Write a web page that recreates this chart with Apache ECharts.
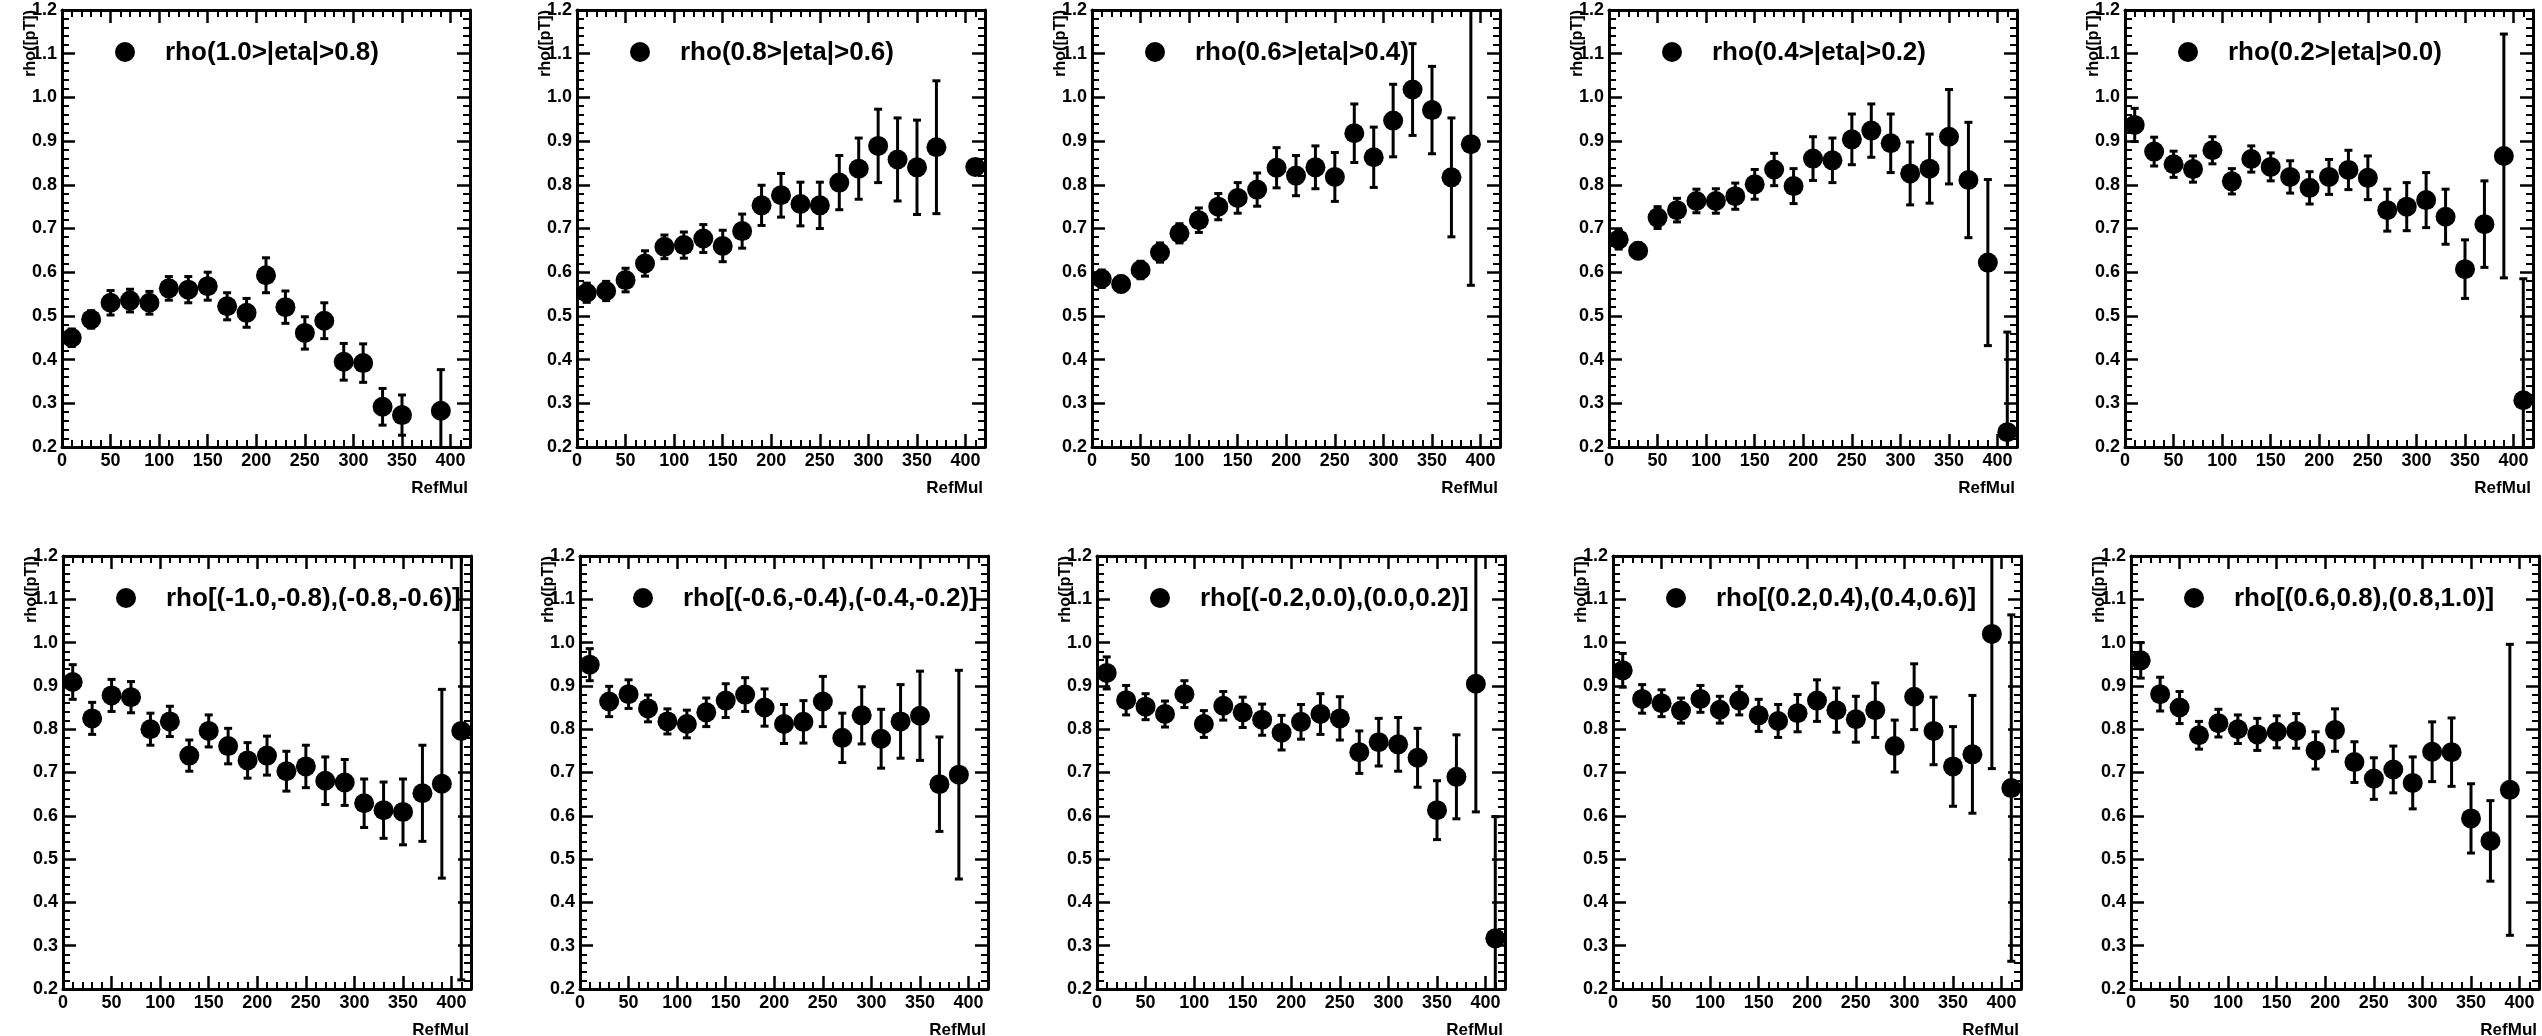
<!DOCTYPE html>
<html>
<head>
<meta charset="utf-8">
<title>rho vs RefMul</title>
<script src="https://cdn.jsdelivr.net/npm/echarts@6/dist/echarts.min.js"></script>
<style>
  html, body { margin: 0; padding: 0; background: #fff; }
  #chart { width: 2542px; height: 1036px; }
</style>
</head>
<body>
<div id="chart"></div>
<script>
// RefMul bin centres (bin width 20, range 0..420)
const refMulBins = [10, 30, 50, 70, 90, 110, 130, 150, 170, 190, 210, 230, 250, 270, 290, 310, 330, 350, 370, 390, 410];

// Axis ticks
const xTicks = [0, 50, 100, 150, 200, 250, 300, 350, 400];
const yTicks = [0.2, 0.3, 0.4, 0.5, 0.6, 0.7, 0.8, 0.9, 1.0, 1.1, 1.2];

// Panel titles
const panelTitles = [
  'rho(1.0>|eta|>0.8)', 'rho(0.8>|eta|>0.6)', 'rho(0.6>|eta|>0.4)', 'rho(0.4>|eta|>0.2)', 'rho(0.2>|eta|>0.0)',
  'rho[(-1.0,-0.8),(-0.8,-0.6)]', 'rho[(-0.6,-0.4),(-0.4,-0.2)]', 'rho[(-0.2,0.0),(0.0,0.2)]',
  'rho[(0.2,0.4),(0.4,0.6)]', 'rho[(0.6,0.8),(0.8,1.0)]'
];

// rho values and their errors, one pair per eta selection (null = empty bin)
const rhoEta10to08 = [0.450, 0.492, 0.530, 0.535, 0.530, 0.563, 0.560, 0.568, 0.522, 0.507, 0.593, 0.520, 0.461, 0.489, 0.395, 0.392, 0.292, 0.273, null, 0.283, null];
const errEta10to08 = [0.020, 0.020, 0.028, 0.026, 0.026, 0.027, 0.030, 0.032, 0.031, 0.033, 0.040, 0.037, 0.037, 0.041, 0.042, 0.044, 0.042, 0.046, null, 0.094, null];

const rhoEta08to06 = [0.553, 0.557, 0.582, 0.620, 0.658, 0.662, 0.677, 0.660, 0.694, 0.753, 0.776, 0.756, 0.753, 0.805, 0.837, 0.889, 0.858, 0.840, 0.886, null, 0.841];
const errEta08to06 = [0.022, 0.022, 0.027, 0.029, 0.027, 0.030, 0.032, 0.036, 0.039, 0.046, 0.050, 0.050, 0.053, 0.062, 0.070, 0.084, 0.095, 0.108, 0.152, null, 0];

const rhoEta06to04 = [0.585, 0.573, 0.605, 0.645, 0.689, 0.719, 0.750, 0.770, 0.789, 0.839, 0.821, 0.840, 0.818, 0.918, 0.863, 0.947, 1.018, 0.971, 0.817, 0.893, null];
const errEta06to04 = [0.020, 0.018, 0.020, 0.022, 0.022, 0.028, 0.030, 0.035, 0.038, 0.046, 0.046, 0.049, 0.056, 0.067, 0.069, 0.083, 0.105, 0.100, 0.136, 0.323, null];

const rhoEta04to02 = [0.675, 0.649, 0.725, 0.742, 0.763, 0.763, 0.774, 0.801, 0.835, 0.797, 0.860, 0.856, 0.904, 0.924, 0.895, 0.826, 0.837, 0.910, 0.811, 0.622, 0.234];
const errEta04to02 = [0.022, 0.018, 0.025, 0.027, 0.027, 0.028, 0.030, 0.034, 0.037, 0.040, 0.050, 0.051, 0.058, 0.061, 0.067, 0.072, 0.079, 0.108, 0.132, 0.190, 0.229];

const rhoEta02to00 = [0.937, 0.876, 0.847, 0.836, 0.879, 0.808, 0.859, 0.841, 0.818, 0.793, 0.818, 0.834, 0.816, 0.742, 0.750, 0.765, 0.727, 0.607, 0.710, 0.866, 0.307];
const errEta02to00 = [0.038, 0.033, 0.030, 0.030, 0.031, 0.029, 0.030, 0.032, 0.037, 0.037, 0.040, 0.045, 0.050, 0.048, 0.055, 0.063, 0.063, 0.067, 0.099, 0.279, 0.278];

const rhoPairM10M06 = [0.909, 0.825, 0.878, 0.874, 0.800, 0.818, 0.739, 0.796, 0.761, 0.728, 0.739, 0.703, 0.714, 0.681, 0.677, 0.629, 0.613, 0.609, 0.652, 0.674, 0.796];
const errPairM10M06 = [0.040, 0.037, 0.037, 0.036, 0.037, 0.035, 0.036, 0.037, 0.041, 0.041, 0.045, 0.046, 0.049, 0.055, 0.053, 0.056, 0.065, 0.076, 0.111, 0.218, 0.575];

const rhoPairM06M02 = [0.949, 0.864, 0.881, 0.848, 0.818, 0.812, 0.839, 0.866, 0.880, 0.850, 0.812, 0.817, 0.864, 0.780, 0.832, 0.778, 0.818, 0.831, 0.673, 0.695, null];
const errPairM06M02 = [0.037, 0.035, 0.033, 0.031, 0.029, 0.032, 0.033, 0.039, 0.039, 0.043, 0.045, 0.049, 0.058, 0.057, 0.066, 0.068, 0.085, 0.103, 0.109, 0.241, null];

const rhoPairM02P02 = [0.930, 0.867, 0.852, 0.835, 0.881, 0.812, 0.854, 0.839, 0.822, 0.792, 0.817, 0.835, 0.825, 0.747, 0.770, 0.765, 0.734, 0.613, 0.690, 0.905, 0.317];
const errPairM02P02 = [0.037, 0.034, 0.030, 0.030, 0.031, 0.031, 0.033, 0.035, 0.036, 0.040, 0.040, 0.047, 0.050, 0.049, 0.055, 0.062, 0.068, 0.068, 0.097, 0.296, 0.281];

const rhoPairP02P06 = [0.936, 0.870, 0.860, 0.843, 0.870, 0.845, 0.866, 0.832, 0.819, 0.837, 0.866, 0.844, 0.823, 0.844, 0.761, 0.875, 0.796, 0.714, 0.742, 1.020, 0.664];
const errPairP02P06 = [0.039, 0.033, 0.031, 0.029, 0.031, 0.031, 0.033, 0.037, 0.038, 0.043, 0.048, 0.051, 0.053, 0.063, 0.060, 0.076, 0.078, 0.092, 0.136, 0.311, 0.400];

const rhoPairP06P10 = [0.959, 0.881, 0.850, 0.786, 0.814, 0.800, 0.788, 0.794, 0.796, 0.751, 0.798, 0.724, 0.686, 0.707, 0.676, 0.748, 0.747, 0.594, 0.542, 0.660, null];
const errPairP06P10 = [0.041, 0.039, 0.037, 0.032, 0.032, 0.033, 0.037, 0.037, 0.040, 0.043, 0.049, 0.047, 0.048, 0.054, 0.060, 0.069, 0.079, 0.080, 0.093, 0.336, null];

const panelValues = [rhoEta10to08, rhoEta08to06, rhoEta06to04, rhoEta04to02, rhoEta02to00,
                     rhoPairM10M06, rhoPairM06M02, rhoPairM02P02, rhoPairP02P06, rhoPairP06P10];
const panelErrors = [errEta10to08, errEta08to06, errEta06to04, errEta04to02, errEta02to00,
                     errPairM10M06, errPairM06M02, errPairM02P02, errPairP02P06, errPairP06P10];

// ---- layout (pixels) ----
const frameLefts = [[62, 577, 1092, 1609, 2125], [63, 580, 1097, 1613, 2131]];
const frameTops = [10, 556];
const frameHeights = [437, 433];
const frameWidth = 408;

const FONT = '"Liberation Sans", Arial, Helvetica, sans-serif';

const chart = echarts.init(document.getElementById('chart'), null, { renderer: 'canvas' });

const grids = [], xAxes = [], yAxes = [], series = [], graphics = [];

function axisCommon(show) {
  return {
    type: 'value',
    axisLine: { show: true, onZero: false, lineStyle: { color: '#000', width: 3 } },
    axisTick: { show: true, inside: true, length: 13, lineStyle: { color: '#000', width: 2.5 } },
    minorTick: { show: true, splitNumber: 5, length: 7, lineStyle: { color: '#000', width: 2 } },
    splitLine: { show: false },
    axisLabel: {
      show: show, color: '#000', fontFamily: FONT, fontWeight: 'bold', fontSize: 18, margin: 5
    }
  };
}

for (let p = 0; p < 10; p++) {
  const row = Math.floor(p / 5), col = p % 5;
  const left = frameLefts[row][col];
  const top = frameTops[row];
  const height = frameHeights[row];
  grids.push({ left: left, top: top, width: frameWidth, height: height, containLabel: false });

  const xMin = 0, xMax = 420;
  const xb = axisCommon(true);
  Object.assign(xb, { gridIndex: p, position: 'bottom', min: xMin, max: xMax, interval: 50 });
  xb.axisLabel.formatter = v => (xTicks.indexOf(v) >= 0 ? String(v) : '');
  const xt = axisCommon(false);
  Object.assign(xt, { gridIndex: p, position: 'top', min: xMin, max: xMax, interval: 50 });
  xAxes.push(xb, xt);

  const yl = axisCommon(true);
  Object.assign(yl, { gridIndex: p, position: 'left', min: yTicks[0], max: yTicks[yTicks.length - 1], interval: 0.1 });
  yl.axisLabel.formatter = v => v.toFixed(1);
  const yr = axisCommon(false);
  Object.assign(yr, { gridIndex: p, position: 'right', min: yTicks[0], max: yTicks[yTicks.length - 1], interval: 0.1 });
  yAxes.push(yl, yr);

  const pts = [], bars = [];
  refMulBins.forEach((x, i) => {
    const v = panelValues[p][i];
    if (v === null || v === undefined) return;
    pts.push([x, v]);
    const e = panelErrors[p][i];
    if (e) bars.push([x, v, e]);
  });

  series.push({
    type: 'custom',
    xAxisIndex: 2 * p, yAxisIndex: 2 * p,
    clip: true,
    silent: true,
    data: bars,
    renderItem: function (params, api) {
      const x = api.value(0), v = api.value(1), e = api.value(2);
      const hi = api.coord([x, v + e]);
      const lo = api.coord([x, v - e]);
      const cap = 4;
      const style = { stroke: '#000', lineWidth: 3 };
      return {
        type: 'group',
        children: [
          { type: 'line', shape: { x1: hi[0], y1: hi[1], x2: lo[0], y2: lo[1] }, style: style },
          { type: 'line', shape: { x1: hi[0] - cap, y1: hi[1], x2: hi[0] + cap, y2: hi[1] }, style: style },
          { type: 'line', shape: { x1: lo[0] - cap, y1: lo[1], x2: lo[0] + cap, y2: lo[1] }, style: style }
        ]
      };
    },
    z: 2
  });

  series.push({
    type: 'scatter',
    name: panelTitles[p],
    xAxisIndex: 2 * p, yAxisIndex: 2 * p,
    symbol: 'circle',
    symbolSize: 20,
    clip: true,
    itemStyle: { color: '#000', opacity: 1 },
    emphasis: { disabled: true },
    data: pts,
    z: 3
  });

  // legend entry: marker and label inside the frame
  graphics.push({
    type: 'circle',
    shape: { cx: left + 63, cy: top + 42, r: 10 },
    style: { fill: '#000' },
    z: 10
  });
  graphics.push({
    type: 'text',
    x: left + 103,
    y: top + 43,
    style: {
      text: panelTitles[p], fill: '#000', font: 'bold 26px ' + FONT,
      align: 'left', verticalAlign: 'middle', textAlign: 'left', textVerticalAlign: 'middle'
    },
    z: 10
  });

  // y-axis title, rotated, reading upward, ending at the frame top
  graphics.push({
    type: 'text',
    x: left - 31,
    y: top,
    rotation: Math.PI / 2,
    style: {
      text: 'rho([pT])', fill: '#000', font: 'bold 16px ' + FONT,
      align: 'right', verticalAlign: 'middle', textAlign: 'right', textVerticalAlign: 'middle'
    },
    z: 10
  });
  // x-axis title, right-aligned under the frame
  graphics.push({
    type: 'text',
    x: left + frameWidth - 2,
    y: top + height + 41,
    style: {
      text: 'RefMul', fill: '#000', font: 'bold 17px ' + FONT,
      align: 'right', verticalAlign: 'middle', textAlign: 'right', textVerticalAlign: 'middle'
    },
    z: 10
  });
}

chart.setOption({
  animation: false,
  backgroundColor: '#fff',
  grid: grids,
  xAxis: xAxes,
  yAxis: yAxes,
  graphic: graphics,
  series: series
});
</script>
</body>
</html>
